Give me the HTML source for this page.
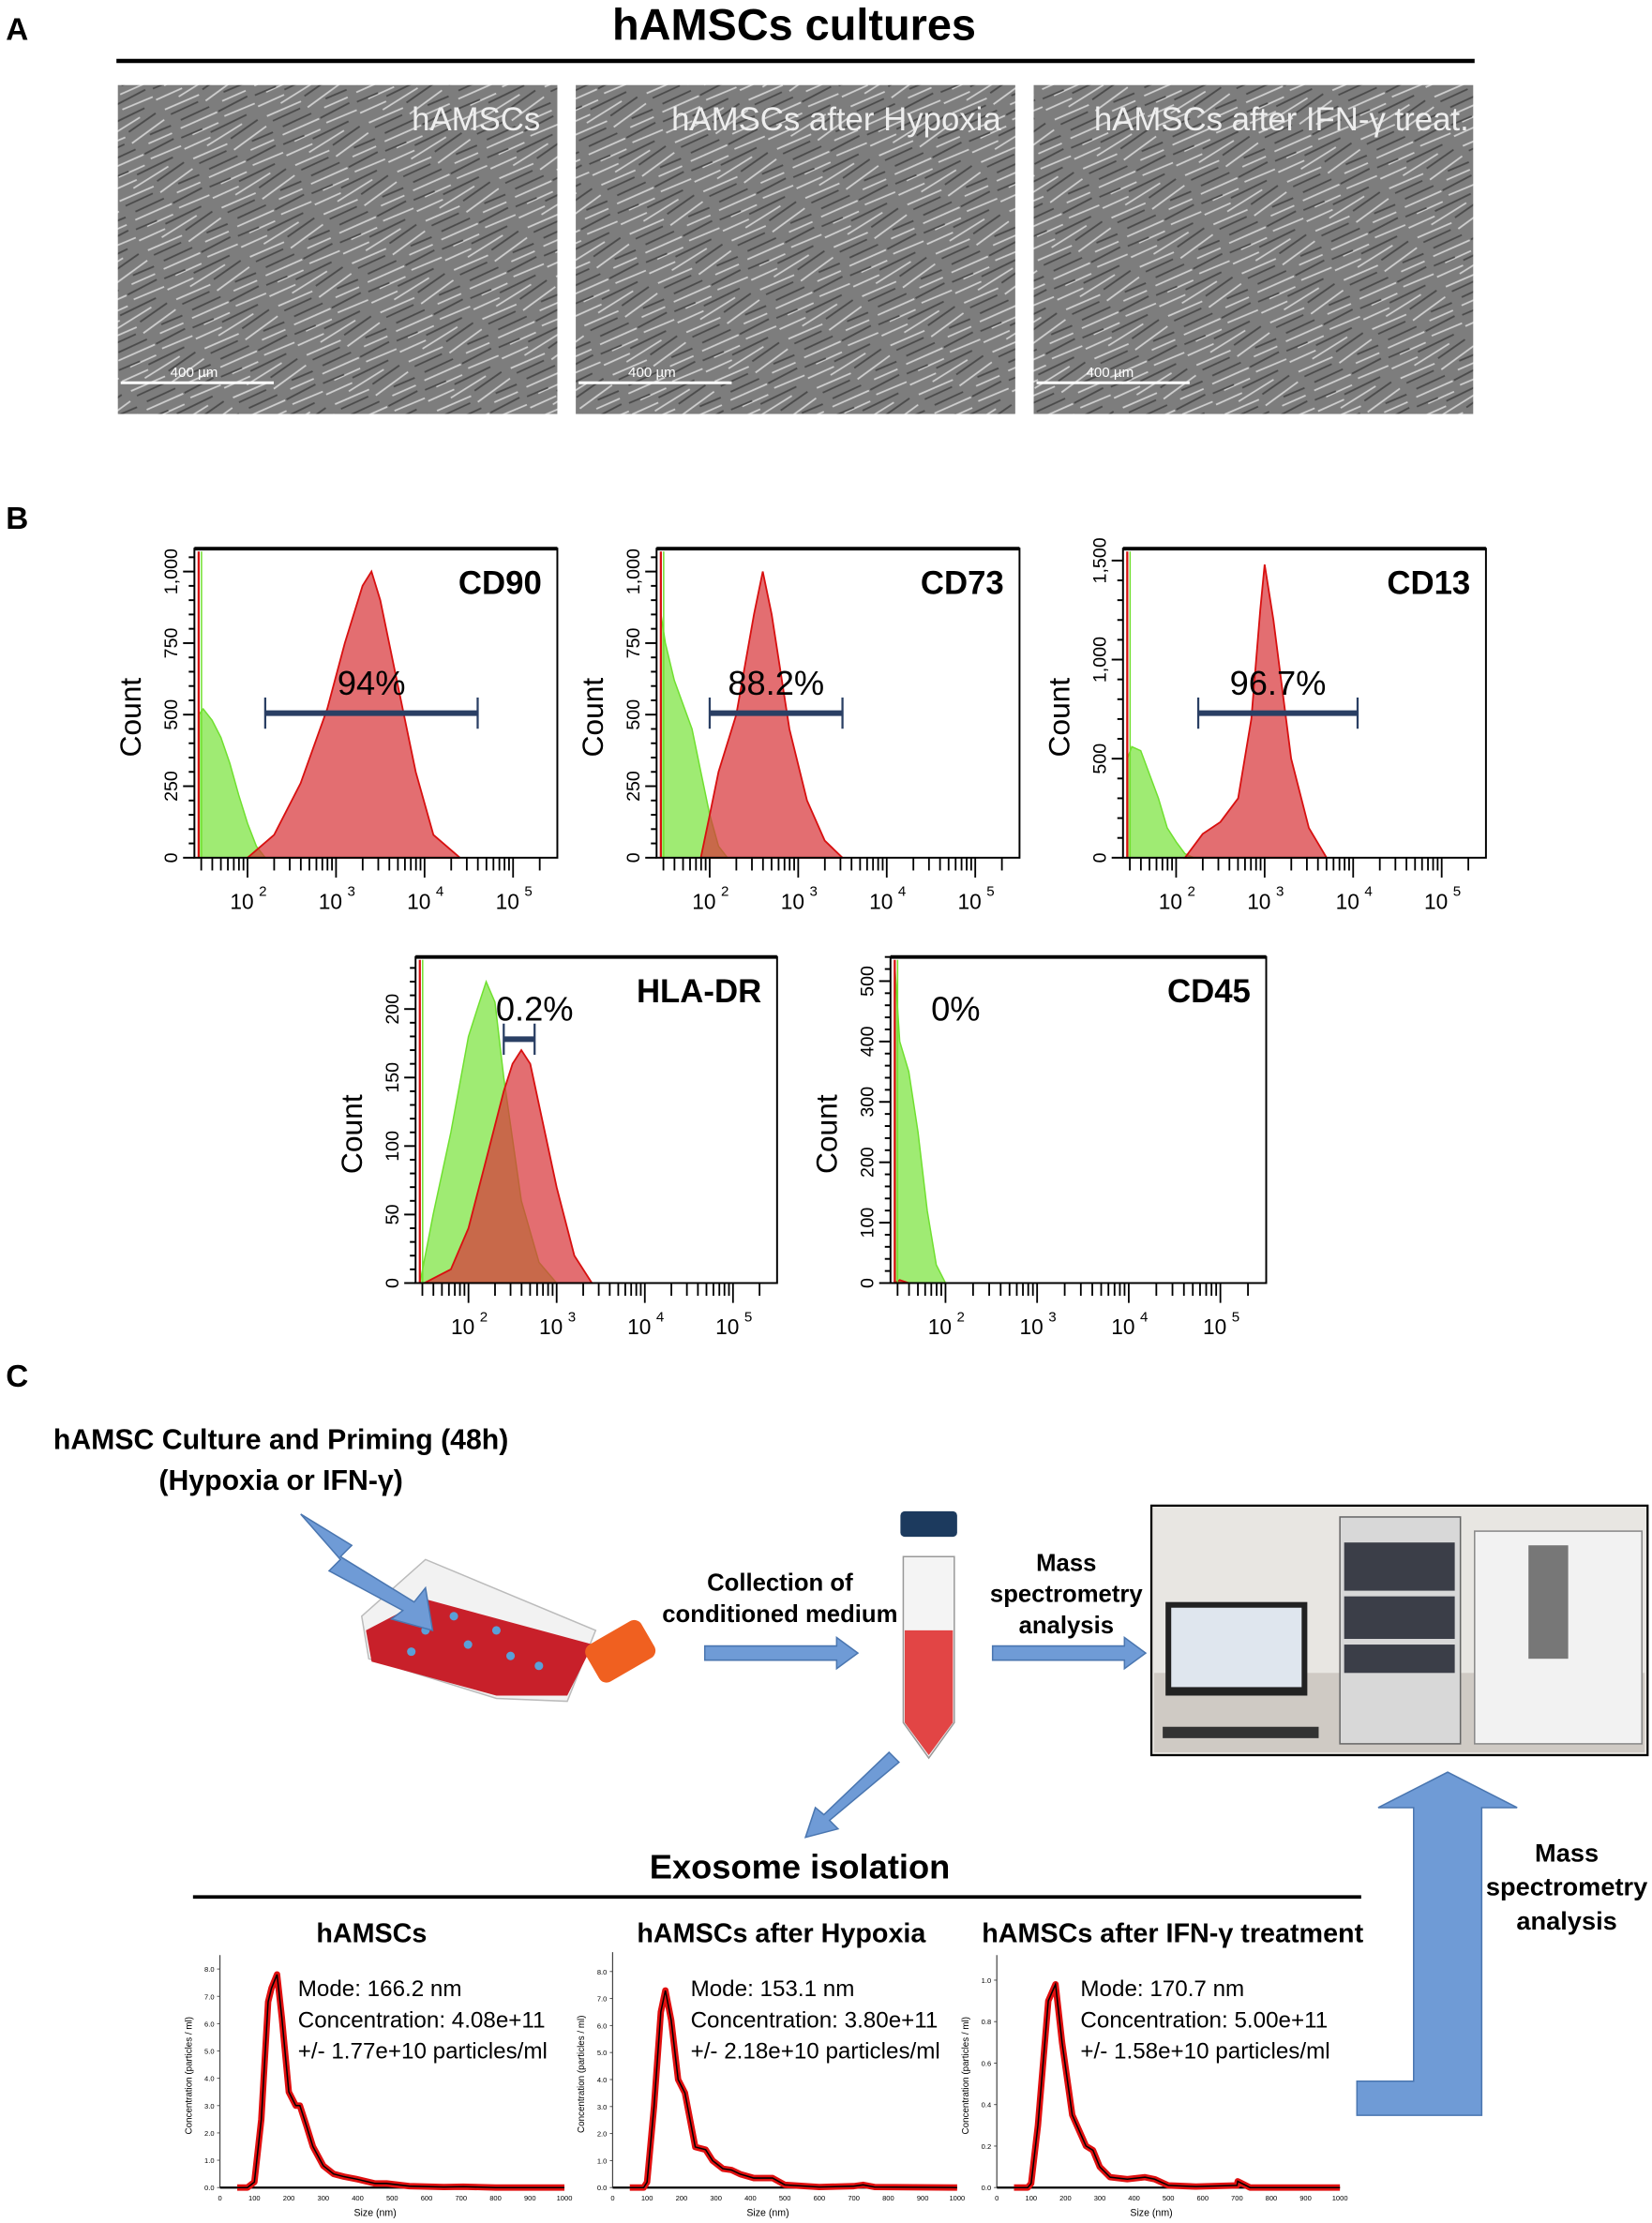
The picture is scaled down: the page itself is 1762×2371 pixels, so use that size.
<!DOCTYPE html>
<html><head><meta charset="utf-8"><style>
html,body{margin:0;padding:0;background:#fff}
svg{display:block}
text{font-family:"Liberation Sans","DejaVu Sans",sans-serif}
</style></head><body>
<svg id="fig" xmlns="http://www.w3.org/2000/svg" width="1762" height="2371" viewBox="0 0 1165 1568">
<defs>
<pattern id="cells" width="60" height="40" patternUnits="userSpaceOnUse" patternTransform="rotate(-30)">
<rect width="60" height="40" fill="#7d7d7d"/>
<g stroke="#cfcfcf" stroke-width="1.2" fill="none">
<path d="M2 5 L28 8 M30 14 L58 11 M5 22 L33 25 M36 30 L59 33 M0 36 L20 38 M15 2 L44 1 M40 20 L58 22 M10 30 L30 32"/>
</g>
<g stroke="#4a4a4a" stroke-width="1.2" fill="none">
<path d="M4 10 L25 12 M32 6 L55 4 M8 17 L30 19 M34 25 L57 26 M2 28 L18 30 M22 35 L50 37 M44 15 L60 17"/>
</g>
</pattern>
</defs>
<!-- Panel A -->
<text x="4" y="28" font-size="22" font-weight="bold">A</text>
<text x="560" y="28" font-size="31" font-weight="bold" text-anchor="middle">hAMSCs cultures</text>
<line x1="82" y1="43" x2="1040" y2="43" stroke="#000" stroke-width="3"/>
<g>
<rect x="83" y="60" width="310" height="232" fill="url(#cells)"/>
<text x="381" y="92" font-size="23" fill="#eee" text-anchor="end">hAMSCs</text>
<line x1="85" y1="270" x2="193" y2="270" stroke="#fff" stroke-width="2"/><text x="120" y="266" font-size="10" fill="#fff">400 µm</text>
</g>
<g>
<rect x="406" y="60" width="310" height="232" fill="url(#cells)"/>
<text x="706" y="92" font-size="23" fill="#eee" text-anchor="end">hAMSCs after Hypoxia</text>
<line x1="408" y1="270" x2="516" y2="270" stroke="#fff" stroke-width="2"/><text x="443" y="266" font-size="10" fill="#fff">400 µm</text>
</g>
<g>
<rect x="729" y="60" width="310" height="232" fill="url(#cells)"/>
<text x="1036" y="92" font-size="23" fill="#eee" text-anchor="end">hAMSCs after IFN-γ treat.</text>
<line x1="731" y1="270" x2="839" y2="270" stroke="#fff" stroke-width="2"/><text x="766" y="266" font-size="10" fill="#fff">400 µm</text>
</g>
<text x="4" y="373" font-size="22" font-weight="bold">B</text>
<g id="hists"></g>

<!-- Panel C -->
<text x="4" y="978" font-size="22" font-weight="bold">C</text>
<text x="198" y="1022" font-size="20" font-weight="bold" text-anchor="middle">hAMSC Culture and Priming (48h)</text>
<text x="198" y="1051" font-size="20" font-weight="bold" text-anchor="middle">(Hypoxia or IFN-γ)</text>
<g>
<polygon points="255,1140 300,1100 420,1150 400,1200 350,1198 260,1170" fill="#f2f2f2" stroke="#bbb"/>
<polygon points="258,1150 300,1128 418,1160 400,1196 350,1196 262,1172" fill="#c8202a"/>
<g fill="#5aa0d8"><circle cx="300" cy="1150" r="3"/><circle cx="330" cy="1160" r="3"/><circle cx="360" cy="1168" r="3"/><circle cx="320" cy="1140" r="3"/><circle cx="350" cy="1150" r="3"/><circle cx="380" cy="1175" r="3"/><circle cx="290" cy="1165" r="3"/></g>
<rect x="415" y="1150" width="45" height="30" rx="6" fill="#f06020" transform="rotate(-30 437 1165)"/>
<polygon points="212,1068 248,1090 240,1098 292,1130 300,1120 305,1150 276,1142 284,1136 232,1108 240,1100" fill="#6f9bd6" stroke="#4a76b0" stroke-width="1"/>
</g>
<g>
<rect x="635" y="1066" width="40" height="18" rx="3" fill="#1c3a5e"/>
<path d="M637 1098 L673 1098 L673 1215 L655 1240 L637 1215 Z" fill="#f4f4f4" stroke="#999"/>
<path d="M638 1150 L672 1150 L672 1215 L655 1238 L638 1215 Z" fill="#e24545"/>
</g>
<text x="550" y="1122" font-size="17" font-weight="bold" text-anchor="middle">Collection of</text>
<text x="550" y="1144" font-size="17" font-weight="bold" text-anchor="middle">conditioned medium</text>
<text x="752" y="1108" font-size="17" font-weight="bold" text-anchor="middle">Mass</text>
<text x="752" y="1130" font-size="17" font-weight="bold" text-anchor="middle">spectrometry</text>
<text x="752" y="1152" font-size="17" font-weight="bold" text-anchor="middle">analysis</text>
<g fill="#6f9bd6" stroke="#4a76b0" stroke-width="1">
<polygon points="497,1161 590,1161 590,1155 605,1166 590,1177 590,1171 497,1171"/>
<polygon points="700,1161 793,1161 793,1155 808,1166 793,1177 793,1171 700,1171"/>
<polygon points="627,1236 634,1243 585,1284 591,1290 568,1296 575,1275 581,1280"/>
<polygon points="957,1468 997,1468 997,1275 972,1275 1021,1250 1070,1275 1045,1275 1045,1492 957,1492"/>
</g>
<g>
<rect x="812" y="1062" width="350" height="176" fill="#e8e6e2" stroke="#000" stroke-width="1.5"/>
<rect x="814" y="1180" width="346" height="56" fill="#cfcac4"/>
<rect x="822" y="1130" width="100" height="66" fill="#222"/><rect x="826" y="1134" width="92" height="56" fill="#dfe6ee"/>
<rect x="945" y="1070" width="85" height="160" fill="#d8d8d8" stroke="#666"/>
<rect x="948" y="1088" width="78" height="34" fill="#3b3e48"/><rect x="948" y="1126" width="78" height="30" fill="#3b3e48"/><rect x="948" y="1160" width="78" height="20" fill="#3b3e48"/>
<rect x="1040" y="1080" width="118" height="150" fill="#f2f2f2" stroke="#888"/>
<rect x="1078" y="1090" width="28" height="80" fill="#777"/>
<rect x="820" y="1218" width="110" height="8" fill="#333"/>
</g>
<text x="1105" y="1313" font-size="18" font-weight="bold" text-anchor="middle">Mass</text>
<text x="1105" y="1337" font-size="18" font-weight="bold" text-anchor="middle">spectrometry</text>
<text x="1105" y="1361" font-size="18" font-weight="bold" text-anchor="middle">analysis</text>
<text x="564" y="1325" font-size="24" font-weight="bold" text-anchor="middle">Exosome isolation</text>
<line x1="136" y1="1338" x2="960" y2="1338" stroke="#000" stroke-width="2.5"/>
<g id="nta"></g>
</svg>
<script>
// ---------- Flow cytometry data (log10 fluorescence, counts) ----------
const cd90RedLog   = [2.0,2.3,2.6,2.9,3.1,3.3,3.4,3.5,3.7,3.9,4.1,4.4];
const cd90RedCnt   = [0,80,260,520,750,950,1000,900,600,300,80,0];
const cd90GreenLog = [1.45,1.5,1.6,1.7,1.8,1.9,2.0,2.1,2.2];
const cd90GreenCnt = [500,520,480,420,330,220,120,40,0];
const cd73RedLog   = [1.9,2.0,2.1,2.3,2.5,2.6,2.7,2.9,3.1,3.3,3.5];
const cd73RedCnt   = [0,150,300,500,850,1000,850,450,200,60,0];
const cd73GreenLog = [1.45,1.5,1.6,1.8,1.9,2.0,2.1,2.2];
const cd73GreenCnt = [850,750,620,450,300,150,40,0];
const cd13RedLog   = [2.1,2.3,2.5,2.7,2.85,2.95,3.0,3.1,3.3,3.5,3.7];
const cd13RedCnt   = [0,120,180,300,700,1250,1480,1200,500,150,0];
const cd13GreenLog = [1.45,1.5,1.6,1.8,1.9,2.0,2.1,2.2];
const cd13GreenCnt = [500,560,540,300,150,80,20,0];
const hlaRedLog    = [1.5,1.8,2.0,2.2,2.4,2.5,2.6,2.7,2.8,3.0,3.2,3.4];
const hlaRedCnt    = [0,10,40,90,140,160,170,160,130,70,20,0];
const hlaGreenLog  = [1.45,1.6,1.8,2.0,2.1,2.2,2.3,2.4,2.6,2.8,3.0];
const hlaGreenCnt  = [0,50,110,180,200,220,205,150,60,15,0];
const cd45RedLog   = [1.45,1.5,1.6];
const cd45RedCnt   = [0,5,0];
const cd45GreenLog = [1.45,1.5,1.6,1.7,1.8,1.9,2.0];
const cd45GreenCnt = [520,400,350,250,120,30,0];
const cd90Ticks = [0,250,500,750,1000]; const cd90TickLbl = ["0","250","500","750","1,000"];
const cd13Ticks = [0,500,1000,1500];    const cd13TickLbl = ["0","500","1,000","1,500"];
const hlaTicks  = [0,50,100,150,200];   const hlaTickLbl  = ["0","50","100","150","200"];
const cd45Ticks = [0,100,200,300,400,500]; const cd45TickLbl = ["0","100","200","300","400","500"];
const gateLo = [2.2,2.0,2.25,2.4,null];
const gateHi = [4.6,3.5,4.05,2.75,null];
const gatePct = ["94%","88.2%","96.7%","0.2%","0%"];
const markers = ["CD90","CD73","CD13","HLA-DR","CD45"];

// ---------- NTA data (size nm, concentration) ----------
const nta1Size = [50,80,100,120,140,150,166,180,200,220,232,250,270,300,330,360,400,450,484,550,650,706,800,1000];
const nta1Conc = [0,0,0.2,2.5,6.8,7.3,7.8,6.2,3.5,3.0,3.0,2.3,1.5,0.8,0.5,0.4,0.3,0.15,0.15,0.05,0.02,0.03,0,0];
const nta2Size = [50,90,100,120,140,153,170,190,210,240,270,290,320,345,370,410,450,464,500,600,700,727,760,1000];
const nta2Conc = [0,0,0.2,3,6.5,7.3,6.2,4.0,3.5,1.5,1.4,1.0,0.7,0.65,0.5,0.35,0.35,0.35,0.1,0.02,0.05,0.1,0.02,0];
const nta3Size = [50,90,100,120,150,171,190,220,260,280,300,330,380,432,460,500,580,700,702,738,1000];
const nta3Conc = [0,0,0.02,0.3,0.9,0.98,0.7,0.35,0.2,0.18,0.1,0.05,0.04,0.05,0.04,0.01,0.005,0.01,0.03,0,0];
const ntaTitles = ["hAMSCs","hAMSCs after Hypoxia","hAMSCs after IFN-γ treatment"];
const ntaMode = ["Mode: 166.2 nm","Mode: 153.1 nm","Mode: 170.7 nm"];
const ntaConc = ["Concentration: 4.08e+11","Concentration: 3.80e+11","Concentration: 5.00e+11"];
const ntaErr  = ["+/- 1.77e+10 particles/ml","+/- 2.18e+10 particles/ml","+/- 1.58e+10 particles/ml"];
const nta12Ticks = [0,1,2,3,4,5,6,7,8];
const nta3Ticks = [0,0.2,0.4,0.6,0.8,1.0];

const NS="http://www.w3.org/2000/svg";
function mk(tag,attrs,parent){const e=document.createElementNS(NS,tag);for(const k in attrs)e.setAttribute(k,attrs[k]);parent.appendChild(e);return e;}

const H=document.getElementById('hists');
const panels=[
 {x0:137,x1:393,y0:387,y1:605,ymax:1080,rl:cd90RedLog,rc:cd90RedCnt,gl:cd90GreenLog,gc:cd90GreenCnt,t:cd90Ticks,tl:cd90TickLbl,gy:503},
 {x0:463,x1:719,y0:387,y1:605,ymax:1080,rl:cd73RedLog,rc:cd73RedCnt,gl:cd73GreenLog,gc:cd73GreenCnt,t:cd90Ticks,tl:cd90TickLbl,gy:503},
 {x0:792,x1:1048,y0:387,y1:605,ymax:1560,rl:cd13RedLog,rc:cd13RedCnt,gl:cd13GreenLog,gc:cd13GreenCnt,t:cd13Ticks,tl:cd13TickLbl,gy:503},
 {x0:293,x1:548,y0:675,y1:905,ymax:238,rl:hlaRedLog,rc:hlaRedCnt,gl:hlaGreenLog,gc:hlaGreenCnt,t:hlaTicks,tl:hlaTickLbl,gy:733},
 {x0:628,x1:893,y0:675,y1:905,ymax:540,rl:cd45RedLog,rc:cd45RedCnt,gl:cd45GreenLog,gc:cd45GreenCnt,t:cd45Ticks,tl:cd45TickLbl,gy:733}
];
panels.forEach((p,i)=>{
 const g=mk('g',{},H);
 
 
 const xs=L=>p.x0+(L-1.4)/(5.5-1.4)*(p.x1-p.x0);
 const ys=c=>p.y1-c/p.ymax*(p.y1-p.y0);
 const area=(ls,cs)=>{let d='M'+xs(ls[0])+' '+p.y1;ls.forEach((l,j)=>d+=' L'+xs(l).toFixed(1)+' '+ys(cs[j]).toFixed(1));return d+' L'+xs(ls[ls.length-1])+' '+p.y1+' Z';};
 const gr=mk('path',{d:area(p.gl,p.gc),fill:'#8ee85a','fill-opacity':0.85,stroke:'#70e030','stroke-width':1},g);
 
 
 const rd=mk('path',{d:area(p.rl,p.rc),fill:'#d8363a','fill-opacity':0.72,stroke:'#d81010','stroke-width':1.2},g);
 
 
 mk('line',{x1:p.x0+3,y1:p.y0+2,x2:p.x0+3,y2:p.y1,stroke:'#d81010','stroke-width':1.5},g);
 mk('line',{x1:p.x0+5,y1:p.y0+2,x2:p.x0+5,y2:p.y1,stroke:'#70e030','stroke-width':1},g);
 mk('rect',{x:p.x0,y:p.y0,width:p.x1-p.x0,height:p.y1-p.y0,fill:'none',stroke:'#000','stroke-width':1.3},g);
 mk('line',{x1:p.x0,y1:p.y0,x2:p.x1,y2:p.y0,stroke:'#000','stroke-width':2.5},g);
 const step=p.t[1]-p.t[0];
 for(let v=0;v<=p.ymax;v+=step/5){mk('line',{x1:p.x0-(Math.abs(v%step)<1e-6?8:4),y1:ys(v),x2:p.x0,y2:ys(v),stroke:'#000','stroke-width':1.3},g);}
 p.t.forEach((v,j)=>{const t=mk('text',{x:p.x0-12,y:ys(v),'font-size':13,'text-anchor':'middle',transform:`rotate(-90 ${p.x0-12} ${ys(v)})`},g);t.textContent=p.tl[j];
   
   });
 const cy=(p.y0+p.y1)/2+10;
 const yl=mk('text',{x:p.x0-38,y:cy,'font-size':21,'text-anchor':'middle',transform:`rotate(-90 ${p.x0-38} ${cy})`},g);yl.textContent='Count';
 
 
 for(let d=1;d<=5;d++)for(let m=1;m<10;m++){const L=d+Math.log10(m);if(L<1.45||L>5.45)continue;
   mk('line',{x1:xs(L),y1:p.y1,x2:xs(L),y2:p.y1+(m===1?14:9),stroke:'#000','stroke-width':1.2},g);}
 [2,3,4,5].forEach(d=>{const t=mk('text',{x:xs(d)-4,y:p.y1+36,'font-size':15,'text-anchor':'middle'},g);t.textContent='10';
   
   
   const s=mk('text',{x:xs(d)+8,y:p.y1+27,'font-size':10},g);s.textContent=String(d);});
 const ml=mk('text',{x:p.x1-11,y:p.y0+32,'font-size':23,'font-weight':'bold','text-anchor':'end'},g);ml.textContent=markers[i];
 
 
 let lx;
 if(gateLo[i]!==null){const a=xs(gateLo[i]),b=xs(gateHi[i]);
   const gb=mk('g',{},g);
   
   
   mk('line',{x1:a,y1:p.gy,x2:b,y2:p.gy,stroke:'#2a3f64','stroke-width':4},gb);
   mk('line',{x1:a,y1:p.gy-11,x2:a,y2:p.gy+11,stroke:'#2a3f64','stroke-width':1.5},gb);
   mk('line',{x1:b,y1:p.gy-11,x2:b,y2:p.gy+11,stroke:'#2a3f64','stroke-width':1.5},gb);
   lx=(a+b)/2; if(i===3)lx=b;}
 else lx=p.x0+46;
 const pt=mk('text',{x:lx,y:p.gy-13,'font-size':24,'text-anchor':'middle'},g);pt.textContent=gatePct[i];
 
 
});

const N=document.getElementById('nta');
const nta=[
 {x0:155,x1:398,y0:1385,y1:1543,ymax:8.2,s:nta1Size,c:nta1Conc,t:nta12Ticks,tx:210,title:262,fmt:v=>v.toFixed(1)},
 {x0:432,x1:675,y0:1383,y1:1543,ymax:8.4,s:nta2Size,c:nta2Conc,t:nta12Ticks,tx:487,title:551,fmt:v=>v.toFixed(1)},
 {x0:703,x1:945,y0:1385,y1:1543,ymax:1.08,s:nta3Size,c:nta3Conc,t:nta3Ticks,tx:762,title:827,fmt:v=>v.toFixed(1)}
];
nta.forEach((p,i)=>{
 const g=mk('g',{},N);
 
 
 const xs=v=>p.x0+v/1000*(p.x1-p.x0);
 const ys=v=>p.y1-v/p.ymax*(p.y1-p.y0);
 const tt=mk('text',{x:p.title,y:1370,'font-size':19,'font-weight':'bold','text-anchor':'middle'},g);tt.textContent=ntaTitles[i];
 
 
 mk('line',{x1:p.x0,y1:p.y0-6,x2:p.x0,y2:p.y1,stroke:'#444','stroke-width':0.8},g);
 mk('line',{x1:p.x0,y1:p.y1,x2:p.x1,y2:p.y1,stroke:'#000','stroke-width':1.5},g);
 p.t.forEach(v=>{mk('line',{x1:p.x0-2,y1:ys(v),x2:p.x0,y2:ys(v),stroke:'#444','stroke-width':0.6},g);
   const t=mk('text',{x:p.x0-4,y:ys(v)+2,'font-size':5,'text-anchor':'end'},g);t.textContent=p.fmt(v);
   
   });
 for(let v=0;v<=1000;v+=100){const t=mk('text',{x:xs(v),y:p.y1+9,'font-size':5,'text-anchor':'middle'},g);t.textContent=String(v);
   
   }
 const xl=mk('text',{x:(p.x0+p.x1)/2-12,y:p.y1+20,'font-size':7,'text-anchor':'middle'},g);xl.textContent='Size (nm)';
 
 
 const cy=(p.y0+p.y1)/2;
 const yl=mk('text',{x:p.x0-20,y:cy,'font-size':6.5,'text-anchor':'middle',transform:`rotate(-90 ${p.x0-20} ${cy})`},g);yl.textContent='Concentration (particles / ml)';
 
 
 let d='';p.s.forEach((s,j)=>d+=(j?' L':'M')+xs(s).toFixed(1)+' '+ys(p.c[j]).toFixed(1));
 const band=mk('path',{d:d,fill:'none',stroke:'#e01010','stroke-width':4.5,'stroke-linejoin':'round'},g);
 
 
 const line=mk('path',{d:d,fill:'none',stroke:'#000','stroke-width':1},g);
 
 
 [ntaMode[i],ntaConc[i],ntaErr[i]].forEach((s,j)=>{const t=mk('text',{x:p.tx,y:1408+j*22,'font-size':16},g);t.textContent=s;
   
   });
});
</script>
</body></html>
